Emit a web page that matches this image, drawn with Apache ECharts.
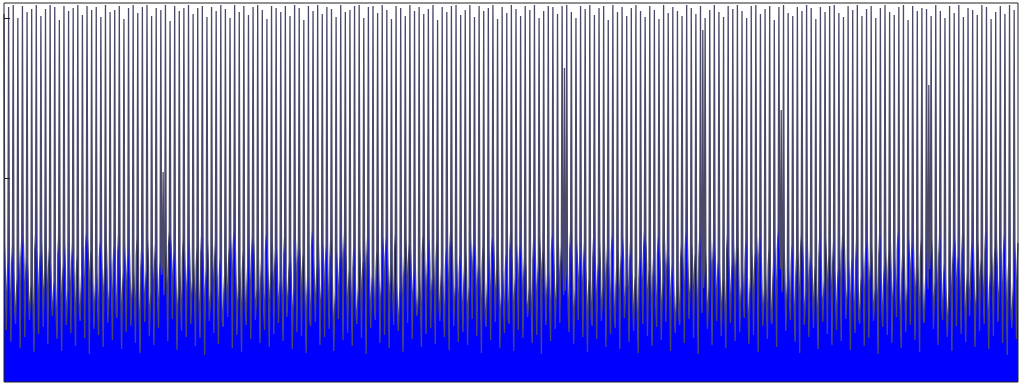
<!DOCTYPE html>
<html>
<head>
<meta charset="utf-8">
<style>
html,body{margin:0;padding:0;background:#fff;}
#chart{width:1019px;height:385px;}
</style>
<script src="https://cdn.jsdelivr.net/npm/echarts@6/dist/echarts.min.js"></script>
</head>
<body>
<div id="chart"></div>
<script>
// Per-cycle readings (units: height above the plot floor)
const peaks = [
368,375,377,364,376,370,373,377,366,373,377,375,362,376,371,374,377,367,376,372,
375,365,377,370,372,376,363,374,377,369,375,377,366,374,372,377,361,376,371,374,
377,368,374,376,365,375,371,377,373,364,377,370,376,367,375,377,372,363,376,374,
370,376,366,377,374,362,376,371,377,368,375,373,365,377,370,372,376,377,364,375,
376,369,377,372,363,376,374,366,377,371,375,368,373,377,362,375,370,376,377,367,
372,377,365,376,371,374,377,363,375,369,377,373,366,376,372,377,364,371,376,375,
368,376,377,370,364,376,373,377,367,374,376,362,377,370,375,366,374,377,371,365,
376,372,363,377,369,375,371,366,377,374,368,376,364,372,377,370,365,376,373,377,
371,364,376,377,368,373,376,362,375,377,369,366,375,371,377,374,363,375,370,376,
377,369,365,376,372,377,366,373,376,364,374,377,370,367,375,377,362,376,371,374,
373,366,377,371,364,376,369,377,365,374,372,367,377,375,363,370,376,368,377,372];
const midA = [
140,128,112,135,146,120,104,131,143,137,118,99,126,141,134,115,108,138,145,122,
110,133,142,127,105,119,140,136,113,101,129,144,138,117,107,132,146,125,111,134,
141,121,103,130,143,139,116,100,127,145,133,114,109,137,142,124,106,128,140,135,
118,102,131,144,136,112,98,126,141,139,120,108,133,146,129,113,104,135,143,123,
109,130,145,132,115,101,128,142,137,119,106,134,144,127,111,103,136,141,125,114,
132,146,138,117,105,129,143,131,112,100,127,140,136,121,108,133,145,126,110,137,
142,124,107,130,144,135,116,102,128,141,139,118,104,131,146,129,113,99,134,143,
122,111,136,145,127,108,101,132,140,138,115,106,130,144,133,119,103,127,142,137,
117,105,133,146,128,110,98,135,143,131,114,107,129,141,139,120,102,126,145,134,
112,137,142,123,106,100,131,144,136,118,109,134,140,125,104,128,146,138,116,101,
129,143,135,113,107,132,145,127,111,103,136,141,122,108,130,144,134,117,105,139];
const midA2 = [
98,84,71,105,117,88,66,95,112,101,80,63,92,108,99,76,70,104,119,86,
73,97,113,90,68,82,110,103,77,62,94,116,106,79,118,96,120,89,74,100,
111,85,67,93,114,107,78,61,90,118,97,75,72,102,109,87,69,91,106,99,
81,65,95,117,103,74,60,89,110,105,83,71,98,121,92,76,67,101,113,86,
72,94,119,96,79,64,91,112,102,82,69,99,115,90,73,66,100,108,88,77,
96,120,104,80,68,93,113,95,75,63,90,107,101,84,71,97,118,89,73,102,
112,87,70,94,116,100,79,65,92,109,104,81,67,95,119,93,76,62,99,114,
85,74,101,118,91,71,64,96,107,103,78,69,94,115,97,82,66,90,111,102,
80,68,97,119,92,73,61,99,113,95,77,70,93,109,104,83,65,89,117,98,
75,102,111,86,69,63,95,114,100,81,72,98,108,88,67,91,120,103,79,64,
93,112,99,76,70,96,118,90,74,66,100,110,85,71,94,115,98,80,68,105];
const dip = [
52,40,58,34,45,62,30,48,55,38,66,43,31,57,49,36,61,44,28,53,
47,35,59,42,64,33,50,56,39,29,60,46,37,54,210,41,63,32,51,45,
58,36,44,27,61,49,38,55,65,34,47,30,57,43,62,39,52,35,48,59,
41,64,33,50,46,29,56,60,37,45,53,31,63,42,49,36,58,44,28,54,
62,39,47,34,57,51,30,59,43,66,35,48,54,38,61,45,32,56,40,50,
37,63,46,29,55,42,60,34,49,58,31,52,44,65,39,47,28,57,41,53,
59,314,50,38,62,45,30,56,43,61,35,48,54,33,64,40,51,29,58,46,
36,55,42,60,31,49,57,39,63,44,28,352,53,37,61,46,34,59,41,50,
64,38,47,30,56,43,58,35,272,51,62,40,29,57,45,54,33,60,48,37,
52,41,63,32,49,58,36,44,61,28,55,47,39,65,34,50,57,42,30,59,
297,53,37,62,45,31,56,48,40,64,35,51,58,33,46,60,39,27,54,43];
const midB = [
95,118,86,124,102,79,131,108,92,115,84,127,99,73,120,105,88,133,111,81,
123,97,76,116,129,90,107,82,125,113,94,71,119,101,87,135,109,78,122,98,
85,114,128,93,74,121,104,89,117,132,80,110,96,126,77,103,130,91,112,83,
127,100,75,119,108,86,134,95,81,116,123,72,106,129,92,114,79,101,125,88,
111,84,124,97,130,76,105,118,90,73,128,102,87,121,94,112,134,80,107,96,
78,120,99,115,83,126,93,71,109,131,86,117,104,75,122,98,113,89,128,82,
116,91,132,74,106,119,85,124,100,77,114,129,95,110,79,121,88,103,133,92,
104,127,80,112,97,73,118,131,87,108,125,94,76,120,102,85,130,99,115,78,
121,86,109,126,75,113,98,133,90,82,117,105,128,72,111,96,124,84,107,119,
93,130,77,104,122,88,115,101,74,126,97,110,83,132,108,79,118,95,123,87,
113,81,125,99,71,116,106,129,89,120,76,103,131,92,114,85,127,100,80,118];
const midB2 = [
121,138,104,142,126,97,148,130,112,136,101,145,119,93,139,127,108,150,133,99,
141,116,95,137,149,110,128,100,144,134,113,90,140,122,106,152,131,96,143,118,
103,135,147,114,92,142,125,107,138,151,98,132,117,146,94,124,149,111,133,102,
146,121,94,140,129,105,153,116,99,137,144,91,127,150,113,135,97,122,145,108,
132,103,145,118,149,95,126,139,109,92,147,123,106,142,115,133,152,98,128,117,
96,141,120,136,102,146,114,90,130,150,105,138,125,94,143,119,134,108,148,100,
137,112,151,93,127,140,104,145,121,96,135,148,116,131,98,142,107,124,152,113,
125,147,99,133,118,92,139,150,106,129,146,115,95,141,123,104,149,120,136,97,
142,105,130,147,94,134,119,152,111,101,138,126,148,91,132,117,145,103,128,140,
114,149,96,125,143,107,136,122,93,147,118,131,102,151,129,98,139,116,144,106,
134,100,146,120,90,137,127,150,110,141,95,124,152,113,135,104,148,121,99,139];
const yTicks = [204, 364];
const yMin = 0, yMax = 379;

const values = [];
for (let i = 0; i < peaks.length; i++) {
  values.push(peaks[i], midA[i], midA2[i], dip[i], midB[i], midB2[i]);
}
const categories = values.map((_, i) => i);

const chart = echarts.init(document.getElementById('chart'), null, {renderer: 'canvas'});
chart.setOption({
  animation: false,
  backgroundColor: '#ffffff',
  grid: {left: 4, right: 1, top: 3, bottom: 3, show: true, borderColor: '#222', borderWidth: 1, backgroundColor: 'transparent', z: 10},
  xAxis: {
    type: 'category', data: categories, boundaryGap: false,
    axisLine: {show: false}, axisTick: {show: false}, axisLabel: {show: false}, splitLine: {show: false}
  },
  yAxis: {
    type: 'value', min: yMin, max: yMax, z: 10,
    axisLine: {show: false},
    axisTick: {show: true, inside: true, length: 6, customValues: yTicks, lineStyle: {color: '#222', width: 1}},
    axisLabel: {show: false}, splitLine: {show: false}
  },
  series: [{
    type: 'line', data: values, symbol: 'none', showSymbol: false, sampling: 'none',
    lineStyle: {color: '#4a4a68', width: 1.3},
    areaStyle: {color: '#0000ff', opacity: 1}
  }]
});
</script>
</body>
</html>
